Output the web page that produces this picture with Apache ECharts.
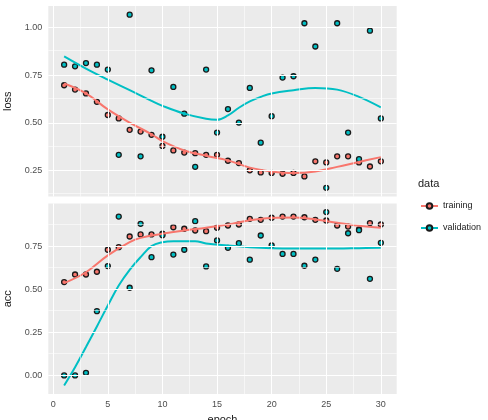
<!DOCTYPE html>
<html>
<head>
<meta charset="utf-8">
<script src="https://cdn.jsdelivr.net/npm/echarts@6/dist/echarts.min.js"></script>
<style>html,body{margin:0;padding:0;background:#fff}#c{width:488px;height:420px}</style>
</head>
<body>
<div id="c"></div>
<script>
// ---- data ----
var epochs = [1,2,3,4,5,6,7,8,9,10,11,12,13,14,15,16,17,18,19,20,21,22,23,24,25,26,27,28,29,30];
var lossTraining = [0.698,0.675,0.655,0.611,0.542,0.524,0.464,0.455,0.438,0.380,0.356,0.345,0.342,0.333,0.333,0.302,0.290,0.252,0.241,0.238,0.234,0.238,0.220,0.299,0.293,0.325,0.325,0.293,0.272,0.299];
var lossValidation = [0.806,0.797,0.814,0.806,0.780,0.333,1.068,0.325,0.776,0.428,0.689,0.549,0.270,0.780,0.450,0.573,0.502,0.684,0.397,0.536,0.738,0.745,1.023,0.901,0.160,1.023,0.450,0.311,0.984,0.524];
var accTraining = [0.543,0.587,0.587,0.603,0.731,0.746,0.808,0.820,0.820,0.824,0.862,0.853,0.843,0.839,0.859,0.872,0.878,0.911,0.905,0.917,0.924,0.924,0.920,0.905,0.901,0.872,0.866,0.850,0.886,0.878];
var accValidation = [0.000,0.000,0.015,0.374,0.636,0.924,0.510,0.882,0.688,0.815,0.703,0.731,0.897,0.634,0.785,0.742,0.769,0.673,0.814,0.756,0.707,0.707,0.638,0.674,0.950,0.620,0.827,0.845,0.562,0.771];

// smoothed (loess) curves
var lossTrainSmoothEpochs = [1,3,5,7,9,10,12,14,16,18,20,22,24,26,28,30];
var lossTrainSmooth = [0.707,0.655,0.571,0.502,0.441,0.405,0.356,0.328,0.304,0.266,0.246,0.238,0.246,0.270,0.296,0.321];
var lossValSmoothEpochs = [1,3,5,7,9,10,12,14,15,16,17,18,19,20,22,24,26,28,30];
var lossValSmooth = [0.849,0.785,0.727,0.672,0.616,0.590,0.549,0.522,0.517,0.540,0.580,0.613,0.637,0.655,0.672,0.684,0.675,0.637,0.582];
var accTrainSmoothEpochs = [1,3,5,7,8,10,12,14,16,18,20,22,24,26,28,30];
var accTrainSmooth = [0.537,0.600,0.698,0.775,0.800,0.824,0.843,0.859,0.878,0.903,0.916,0.918,0.907,0.888,0.870,0.859];
var accValSmoothEpochs = [1,2,3,4,5,6,7,8,9,10,11,13,14,16,18,20,22,24,26,28,30];
var accValSmooth = [-0.058,0.048,0.165,0.285,0.407,0.523,0.614,0.688,0.752,0.775,0.781,0.781,0.768,0.756,0.746,0.740,0.738,0.738,0.738,0.740,0.742];

// ticks
var xTicks = [0,5,10,15,20,25,30];
var xMinor = [2.5,7.5,12.5,17.5,22.5,27.5];
var lossTicks = [0.25,0.50,0.75,1.00];
var lossMinor = [0.125,0.375,0.625,0.875];
var accTicks = [0.00,0.25,0.50,0.75];
var accMinor = [0.125,0.375,0.625,0.875];
var seriesNames = ['training','validation'];

// ---- styling ----
var colors = {training:'#F8766D', validation:'#00BFC4'};
var FONT = 'Liberation Sans, Arial, sans-serif';

function zip(xs, ys){ return xs.map(function(x,i){ return [x, ys[i]]; }); }

function gridLines(gi){
  var yMaj = gi === 0 ? lossTicks : accTicks;
  var yMin = gi === 0 ? lossMinor : accMinor;
  var d = [];
  xMinor.forEach(function(v){ d.push({xAxis:v, lineStyle:{width:0.55}}); });
  yMin.forEach(function(v){ d.push({yAxis:v, lineStyle:{width:0.55}}); });
  xTicks.forEach(function(v){ d.push({xAxis:v, lineStyle:{width:1.1}}); });
  yMaj.forEach(function(v){ d.push({yAxis:v, lineStyle:{width:1.1}}); });
  return {
    type:'scatter', xAxisIndex:gi, yAxisIndex:gi, data:[], silent:true, z:1,
    markLine:{silent:true, symbol:['none','none'], label:{show:false}, animation:false,
      lineStyle:{color:'#ffffff', type:'solid'}, emphasis:{disabled:true}, data:d}
  };
}

function pointSeries(gi, name, vals){
  return {
    type:'scatter', name:name, xAxisIndex:gi, yAxisIndex:gi, z:3,
    data: zip(epochs, vals), symbol:'circle', symbolSize:5,
    itemStyle:{color:colors[name], borderColor:'#1A1A1A', borderWidth:1.3, opacity:1}
  };
}
function smoothSeries(gi, name, xs, ys){
  return {
    type:'line', name:name, xAxisIndex:gi, yAxisIndex:gi, z:4,
    data: zip(xs, ys), smooth:0.4, symbol:'circle', symbolSize:5, showSymbol:false,
    lineStyle:{color:colors[name], width:2},
    itemStyle:{color:colors[name], borderColor:'#1A1A1A', borderWidth:1}
  };
}

var axisLabelStyle = {color:'#4D4D4D', fontSize:9, fontFamily:FONT};

var option = {
  animation:false,
  textStyle:{fontFamily:FONT},
  title:{text:'data', left:413, top:173, textStyle:{fontSize:11, fontWeight:'normal', color:'#1A1A1A', fontFamily:FONT}},
  legend:{
    data:seriesNames, orient:'vertical', left:415, top:196.5, itemWidth:17, itemHeight:7, itemGap:13,
    textStyle:{fontSize:9, color:'#1A1A1A', fontFamily:FONT}
  },
  grid:[
    {left:48.3, top:6, width:348.4, height:190.5, show:true, backgroundColor:'#EBEBEB', borderWidth:0, containLabel:false, outerBoundsMode:'none'},
    {left:48.3, top:203.5, width:348.4, height:190.5, show:true, backgroundColor:'#EBEBEB', borderWidth:0, containLabel:false, outerBoundsMode:'none'}
  ],
  xAxis:[
    {gridIndex:0, type:'value', min:-0.45, max:31.45, axisLine:{show:false}, axisTick:{show:false}, axisLabel:{show:false}, splitLine:{show:false}},
    {gridIndex:1, type:'value', min:-0.45, max:31.45, axisLine:{show:false},
     axisTick:{show:true, length:3, lineStyle:{color:'#333'}, customValues:xTicks},
     axisLabel:Object.assign({margin:6, customValues:xTicks}, axisLabelStyle),
     splitLine:{show:false},
     name:'epoch', nameLocation:'middle', nameGap:20, nameMoveOverlap:false, nameTextStyle:{fontSize:11, color:'#1A1A1A', fontFamily:FONT}}
  ],
  yAxis:[
    {gridIndex:0, type:'value', min:0.1146, max:1.1134, axisLine:{show:false},
     axisTick:{show:true, length:3, lineStyle:{color:'#333'}, customValues:lossTicks},
     axisLabel:Object.assign({margin:6, customValues:lossTicks, formatter:function(v){return v.toFixed(2);}}, axisLabelStyle),
     splitLine:{show:false},
     name:'loss', nameLocation:'middle', nameGap:30, nameTextStyle:{fontSize:11, color:'#1A1A1A', fontFamily:FONT}},
    {gridIndex:1, type:'value', min:-0.108, max:1.0, axisLine:{show:false},
     axisTick:{show:true, length:3, lineStyle:{color:'#333'}, customValues:accTicks},
     axisLabel:Object.assign({margin:6, customValues:accTicks, formatter:function(v){return v.toFixed(2);}}, axisLabelStyle),
     splitLine:{show:false},
     name:'acc', nameLocation:'middle', nameGap:30, nameTextStyle:{fontSize:11, color:'#1A1A1A', fontFamily:FONT}}
  ],
  series:[
    smoothSeries(0,'training', lossTrainSmoothEpochs, lossTrainSmooth),
    smoothSeries(0,'validation', lossValSmoothEpochs, lossValSmooth),
    gridLines(0),
    gridLines(1),
    pointSeries(0,'training', lossTraining),
    pointSeries(0,'validation', lossValidation),
    pointSeries(1,'training', accTraining),
    pointSeries(1,'validation', accValidation),
    smoothSeries(1,'training', accTrainSmoothEpochs, accTrainSmooth),
    smoothSeries(1,'validation', accValSmoothEpochs, accValSmooth)
  ]
};
var chart = echarts.init(document.getElementById('c'), null, {renderer:'canvas'});
chart.setOption(option);
</script>
</body>
</html>
